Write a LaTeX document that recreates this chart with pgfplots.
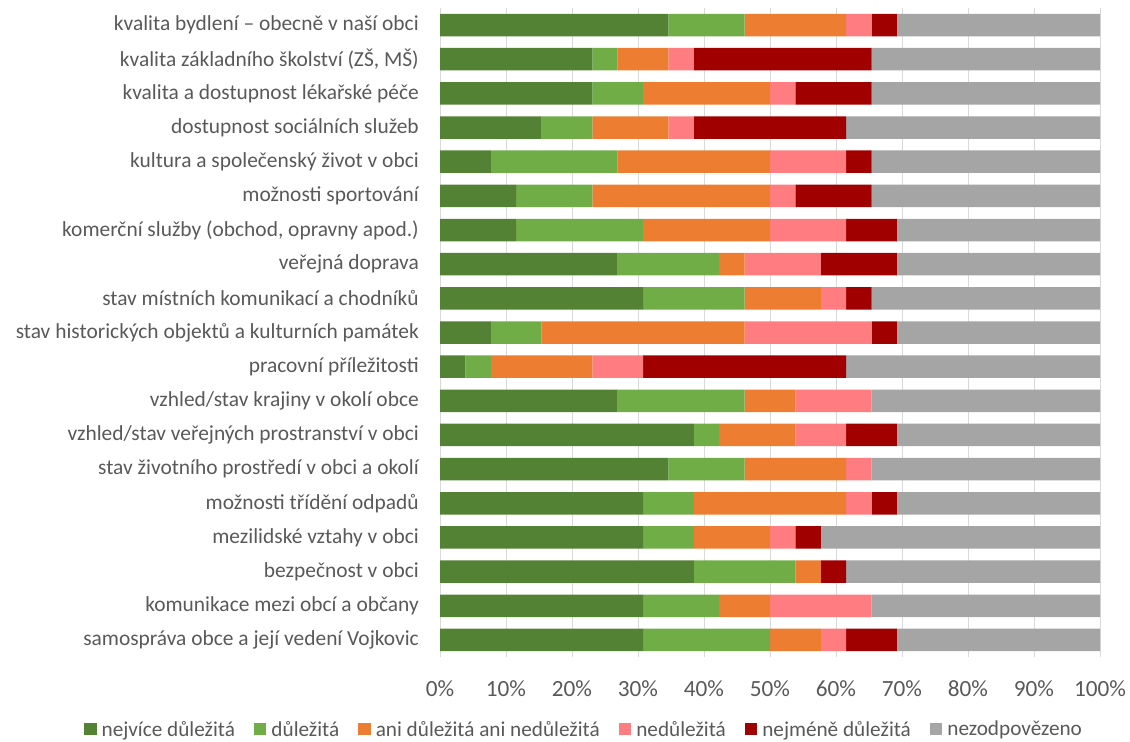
\documentclass[border=0pt]{standalone}
\usepackage{fontspec}
\setmainfont{Carlito}
\usepackage{pgfplots}
\usepackage{pgfplotstable}
\pgfplotsset{compat=1.18}
\definecolor{cA}{HTML}{548235}
\definecolor{cB}{HTML}{70AD47}
\definecolor{cC}{HTML}{ED7D31}
\definecolor{cD}{HTML}{FF7C80}
\definecolor{cE}{HTML}{A00000}
\definecolor{cF}{HTML}{A5A5A5}
\definecolor{txt}{HTML}{595959}
\definecolor{grd}{HTML}{D9D9D9}

\pgfplotstableread{
idx a b c d e f
0 34.62 11.54 15.38 3.85 3.85 30.76
1 23.08 3.85 7.69 3.85 26.92 34.61
2 23.08 7.69 19.23 3.85 11.54 34.61
3 15.38 7.69 11.54 3.85 23.08 38.46
4 7.69 19.23 23.08 11.54 3.85 34.61
5 11.54 11.54 26.92 3.85 11.54 34.61
6 11.54 19.23 19.23 11.54 7.69 30.77
7 26.92 15.38 3.85 11.54 11.54 30.77
8 30.77 15.38 11.54 3.85 3.85 34.61
9 7.69 7.69 30.77 19.23 3.85 30.77
10 3.85 3.85 15.38 7.69 30.77 38.46
11 26.92 19.23 7.69 11.54 0 34.62
12 38.46 3.85 11.54 7.69 7.69 30.77
13 34.62 11.54 15.38 3.85 0 34.61
14 30.77 7.69 23.08 3.85 3.85 30.76
15 30.77 7.69 11.54 3.85 3.85 42.30
16 38.46 15.38 3.85 0 3.85 38.46
17 30.77 11.54 7.69 15.38 0 34.62
18 30.77 19.23 7.69 3.85 7.69 30.77
}\data

\begin{document}
\begin{tikzpicture}
\path[use as bounding box] (0,0) rectangle (1130bp,742bp);
\begin{axis}[
  at={(440bp,85bp)}, anchor=south west,
  scale only axis, width=660bp, height=649bp,
  xbar stacked, bar width=22.5bp,
  xmin=0, xmax=100, ymin=-0.5, ymax=18.5, y dir=reverse,
  axis y line*=left, axis x line*=bottom,
  x axis line style={draw=none},
  y axis line style={draw=grd, line width=1bp},
  xmajorgrids, grid style={draw=grd, line width=1bp},
  major tick length=0pt,
  xtick={0,10,...,100},
  xticklabels={0\%,10\%,20\%,30\%,40\%,50\%,60\%,70\%,80\%,90\%,100\%},
  xticklabel style={font=\fontsize{23.3}{23.3}\selectfont, text=txt, inner sep=0pt, yshift=-23.5bp},
  ytick={0,...,18},
  yticklabels={
    {kvalita bydlení – obecně v naší obci},
    {kvalita základního školství (ZŠ, MŠ)\hspace{5bp}},
    {kvalita a dostupnost lékařské péče},
    {dostupnost sociálních služeb\hspace{5bp}},
    {kultura a společenský život v obci},
    {možnosti sportování\hspace{5bp}},
    {komerční služby (obchod, opravny apod.)\hspace{5bp}},
    {veřejná doprava\hspace{5bp}},
    {stav místních komunikací a chodníků\hspace{5bp}},
    {stav historických objektů a kulturních památek\hspace{5bp}},
    {pracovní příležitosti\hspace{5bp}},
    {vzhled/stav krajiny v okolí obce\hspace{5bp}},
    {vzhled/stav veřejných prostranství v obci\hspace{5bp}},
    {stav životního prostředí v obci a okolí\hspace{5bp}},
    {možnosti třídění odpadů\hspace{5bp}},
    {mezilidské vztahy v obci\hspace{5bp}},
    {bezpečnost v obci},
    {komunikace mezi obcí a občany\hspace{5bp}},
    {samospráva obce a její vedení Vojkovic}},
  yticklabel style={font=\fontsize{21.5}{21.5}\selectfont, text=txt, inner sep=0pt, xshift=-21bp},
  legend style={at={(0.2167,-0.1115)}, anchor=center, legend columns=6, draw=none,
    font=\fontsize{21.3}{21.3}\selectfont, text=txt,
    nodes={inner sep=0pt},
    /tikz/every odd column/.append style={column sep=5bp},
    /tikz/every even column/.append style={column sep=19bp}},
  legend image code/.code={\fill[#1] (0bp,-6bp) rectangle (12.5bp,6bp);},
]
\addplot[fill=cA, draw=none] table[x=a, y=idx] {\data};
\addplot[fill=cB, draw=none] table[x=b, y=idx] {\data};
\addplot[fill=cC, draw=none] table[x=c, y=idx] {\data};
\addplot[fill=cD, draw=none] table[x=d, y=idx] {\data};
\addplot[fill=cE, draw=none] table[x=e, y=idx] {\data};
\addplot[fill=cF, draw=none] table[x=f, y=idx] {\data};
\legend{nejvíce důležitá, důležitá, ani důležitá ani nedůležitá, nedůležitá, nejméně důležitá, nezodpovězeno}
\end{axis}
\end{tikzpicture}
\end{document}
